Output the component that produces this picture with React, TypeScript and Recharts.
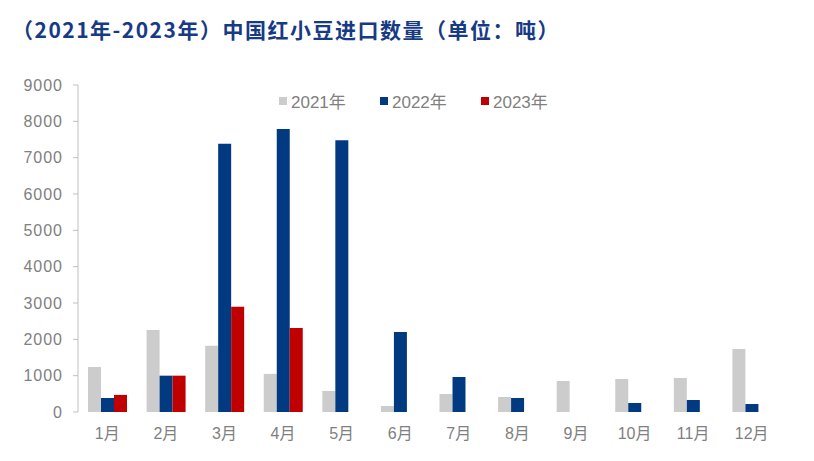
import { Bar, BarChart, XAxis, YAxis } from 'recharts';

const months = ['1月', '2月', '3月', '4月', '5月', '6月', '7月', '8月', '9月', '10月', '11月', '12月'];
const y2021 = [1240, 2260, 1820, 1050, 580, 165, 495, 413, 853, 908, 936, 1734];
const y2022 = [385, 1000, 7380, 7790, 7480, 2200, 963, 385, 0, 248, 330, 220];
const y2023 = [470, 1000, 2900, 2310, null, null, null, null, null, null, null, null];
const yTicks = [0, 1000, 2000, 3000, 4000, 5000, 6000, 7000, 8000, 9000];
const edgeTicks = [0, 1, 2, 3, 4, 5, 6, 7, 8, 9, 10, 11, 12];

const series = [
  { key: 'y2021', name: '2021年', color: '#CCCCCC' },
  { key: 'y2022', name: '2022年', color: '#023A82' },
  { key: 'y2023', name: '2023年', color: '#C00000' },
];

const data = months.map((m, i) => ({
  month: m,
  y2021: y2021[i],
  y2022: y2022[i],
  y2023: y2023[i],
}));

const font = '"Liberation Sans", "Noto Sans CJK SC", sans-serif';
const gray = '#808080';
const axisGray = '#BFBFBF';

export default function App() {
  return (
    <div style={{ position: 'absolute', left: 0, top: 0, width: 814, height: 461, background: '#fff', fontFamily: font }}>
      <div
        style={{
          position: 'absolute',
          left: 12,
          top: 14,
          fontSize: 21,
          letterSpacing: 1.5,
          fontWeight: 'bold',
          color: '#173A85',
          fontFamily: '"Noto Sans CJK SC", sans-serif',
          whiteSpace: 'nowrap',
        }}
      >
        （2021年-2023年）中国红小豆进口数量（单位：吨）
      </div>
      <div style={{ position: 'absolute', left: 279, top: 88, display: 'flex' }}>
        {series.map((s) => (
          <div key={s.key} style={{ display: 'flex', alignItems: 'center', width: 101, color: gray, fontSize: 17 }}>
            <span style={{ display: 'inline-block', width: 8, height: 8, background: s.color, marginRight: 4 }} />
            {s.name}
          </div>
        ))}
      </div>
      <BarChart
        width={814}
        height={461}
        data={data}
        margin={{ top: 85, right: 33, left: 18, bottom: 24 }}
        barGap={0}
        barSize={13}
        style={{ position: 'absolute', left: 0, top: 0 }}
      >
        <XAxis
          xAxisId="edges"
          type="number"
          domain={[0, 12]}
          ticks={edgeTicks}
          tick={false}
          tickSize={6}
          height={0}
          stroke={axisGray}
          axisLine={{ stroke: axisGray }}
          tickLine={{ stroke: axisGray }}
        />
        <XAxis
          xAxisId="cat"
          dataKey="month"
          axisLine={false}
          tickLine={false}
          tickMargin={10}
          height={25}
          interval={0}
          tick={{ fill: gray, fontSize: 16, fontFamily: font }}
        />
        <YAxis
          domain={[0, 9000]}
          ticks={yTicks}
          width={60}
          tickSize={5}
          tickMargin={10}
          axisLine={{ stroke: axisGray }}
          tickLine={{ stroke: axisGray }}
          tick={{ fill: gray, fontSize: 16, fontFamily: font, letterSpacing: 1 }}
        />
        {series.map((s) => (
          <Bar key={s.key} xAxisId="cat" dataKey={s.key} name={s.name} fill={s.color} isAnimationActive={false} />
        ))}
      </BarChart>
    </div>
  );
}
